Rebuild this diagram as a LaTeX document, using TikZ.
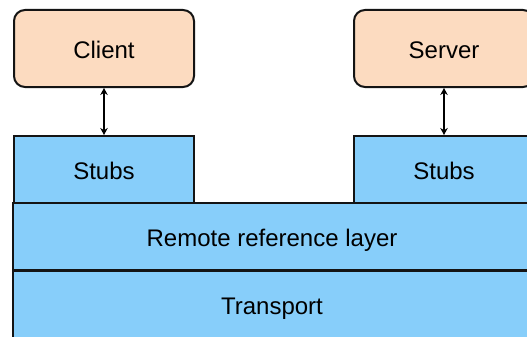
\documentclass[tikz,border=0pt]{standalone}
\usepackage{fontspec}
\setmainfont{Liberation Sans}
\usetikzlibrary{arrows.meta}
\definecolor{peach}{RGB}{252,219,192}
\definecolor{skyb}{RGB}{135,206,250}
\definecolor{edge}{RGB}{20,20,20}
\begin{document}
\begin{tikzpicture}[x=1pt,y=-1pt,
  every node/.style={font=\fontsize{24}{28}\selectfont, inner sep=0pt, line width=2pt, draw=edge, text height=24pt, text depth=4pt},
  endbox/.style={fill=peach, rounded corners=11pt, minimum width=180pt, minimum height=77pt},
  layerbox/.style={fill=skyb, minimum width=180pt, minimum height=67pt},
  wide/.style={fill=skyb, minimum width=518pt, minimum height=67pt},
  link/.style={line width=2.3pt, draw=black, {Stealth[length=7pt,width=7.5pt]}-{Stealth[length=7pt,width=7.5pt]}}]
\useasboundingbox (0,0) rectangle (527,337);
\clip (0,0) rectangle (527,337);
\fill[white] (0,0) rectangle (527,337);
\node[wide] (transport) at (272,304) {Transport};
\node[wide] (rrl) at (272,236.5) {Remote reference layer};
\node[layerbox] (stubsL) at (104,169.5) {Stubs};
\node[layerbox] (stubsR) at (444,169.5) {Stubs};
\node[endbox] (client) at (104,48.5) {Client};
\node[endbox] (server) at (444,48.5) {Server};
\draw[link] (client.south) -- (stubsL.north);
\draw[link] (server.south) -- (stubsR.north);
\end{tikzpicture}
\end{document}
